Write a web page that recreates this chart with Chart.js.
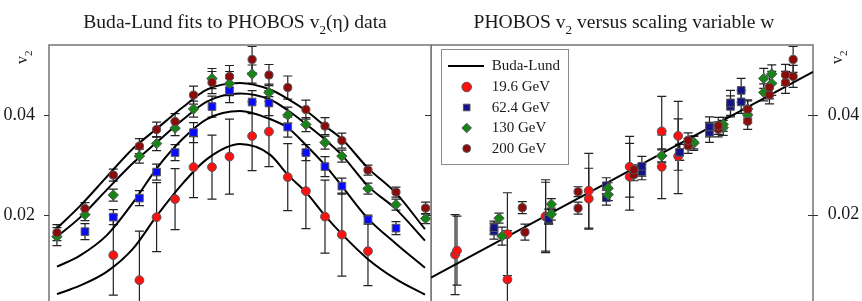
<!DOCTYPE html>
<html>
<head>
<meta charset="utf-8">
<script src="https://cdn.jsdelivr.net/npm/chart.js@4.4.1/dist/chart.umd.min.js"></script>
<style>
    html, body { margin: 0; padding: 0; background: #fff; overflow: hidden; }
    #wrap { position: relative; width: 862px; height: 301px; }
    canvas { position: absolute; top: 0; }
    #cL { left: 0; width: 432px; height: 340px; }
    #cR { left: 431px; width: 431px; height: 340px; }
</style>
</head>
<body>
<div id="wrap">
    <canvas id="cL" width="432" height="340"></canvas>
    <canvas id="cR" width="431" height="340"></canvas>
</div>
<script>
// --- PHOBOS v2(eta) points ---
const etaRed = [-3.98, -3.16, -2.62, -2.04, -1.46, -0.88, -0.33, 0.38, 0.91, 1.50, 2.07, 2.67, 3.20, 4.02];
const v2Red = [0.0120, 0.0070, 0.0196, 0.0232, 0.0296, 0.0296, 0.0317, 0.0358, 0.0367, 0.0276, 0.0248, 0.0197, 0.0161, 0.0128];
const errRed = [0.0080, 0.0098, 0.0069, 0.0061, 0.0061, 0.0064, 0.0075, 0.0069, 0.0070, 0.0067, 0.0075, 0.0073, 0.0083, 0.0069];
const wRed = [0.63, 2.00, 3.00, 4.13, 5.20, 6.04, 6.47, 6.47, 6.04, 5.20, 4.13, 3.00, 2.00, 0.68];

const etaBlue = [-4.87, -3.98, -3.16, -2.62, -2.04, -1.46, -0.88, -0.33, 0.38, 0.91, 1.50, 2.07, 2.67, 3.20, 4.02, 4.90];
const v2Blue = [0.0167, 0.0196, 0.0234, 0.0286, 0.0325, 0.0365, 0.0417, 0.0449, 0.0426, 0.0424, 0.0376, 0.0325, 0.0297, 0.0258, 0.0191, 0.0174];
const errBlue = [0.0016, 0.0015, 0.0015, 0.0016, 0.0016, 0.0020, 0.0021, 0.0024, 0.0023, 0.0025, 0.0020, 0.0016, 0.0020, 0.0016, 0.0009, 0.0013];
const wBlue = [1.65, 3.08, 4.59, 5.52, 6.51, 7.29, 7.84, 8.12, 8.12, 7.84, 7.29, 6.51, 5.52, 4.59, 3.08, 1.65];

const etaAll = [-5.75, -4.87, -3.98, -3.16, -2.62, -2.04, -1.46, -0.88, -0.33, 0.38, 0.91, 1.50, 2.07, 2.67, 3.20, 4.02, 4.90, 5.83];
const v2Green = [0.0157, 0.0201, 0.0240, 0.0318, 0.0343, 0.0374, 0.0412, 0.0473, 0.0463, 0.0482, 0.0445, 0.0400, 0.0381, 0.0345, 0.0318, 0.0253, 0.0221, 0.0193];
const errGreen = [0.0018, 0.0012, 0.0012, 0.0014, 0.0014, 0.0015, 0.0016, 0.0020, 0.0024, 0.0018, 0.0017, 0.0016, 0.0014, 0.0013, 0.0012, 0.0011, 0.0011, 0.0010];
const wGreen = [1.86, 3.15, 4.64, 6.04, 6.88, 7.65, 8.29, 8.71, 8.92, 8.92, 8.71, 8.29, 7.65, 6.88, 6.04, 4.64, 3.15, 1.78];

const v2Dark = [0.0165, 0.0213, 0.0280, 0.0338, 0.0371, 0.0387, 0.0440, 0.0465, 0.0477, 0.0511, 0.0480, 0.0455, 0.0411, 0.0378, 0.0349, 0.0290, 0.0246, 0.0214];
const errDark = [0.0016, 0.0012, 0.0012, 0.0015, 0.0015, 0.0016, 0.0018, 0.0022, 0.0022, 0.0026, 0.0021, 0.0023, 0.0019, 0.0017, 0.0015, 0.0010, 0.0010, 0.0012];
const wDark = [2.46, 3.85, 5.31, 6.73, 7.52, 8.29, 8.86, 9.28, 9.48, 9.48, 9.28, 8.86, 8.29, 7.52, 6.73, 5.31, 3.85, 2.39];

// --- Buda-Lund fit curves (left) and the straight fit (right) ---
const etaFit = [-5.75, -5.03, -4.18, -3.36, -2.61, -1.79, -1.04, 0, 0.94, 1.51, 2.07, 2.67, 3.20, 4.02, 4.90, 5.81];
const fit200 = [0.0174, 0.0218, 0.0277, 0.0333, 0.0373, 0.0416, 0.0451, 0.0464, 0.0451, 0.0432, 0.0409, 0.0378, 0.0352, 0.0294, 0.0244, 0.0172];
const fit130 = [0.0157, 0.0195, 0.0251, 0.0304, 0.0346, 0.0391, 0.0427, 0.0443, 0.0431, 0.0409, 0.0382, 0.0351, 0.0320, 0.0258, 0.0212, 0.0149];
const fit62 = [0.0097, 0.0119, 0.0160, 0.0225, 0.0294, 0.0353, 0.0392, 0.0408, 0.0392, 0.0374, 0.0340, 0.0300, 0.0258, 0.0193, 0.0143, 0.0095];
const fit19 = [0.0042, 0.0059, 0.0087, 0.0133, 0.0199, 0.0264, 0.0312, 0.0342, 0.0321, 0.0280, 0.0246, 0.0199, 0.0162, 0.0112, 0.0072, 0.0041];
const wFit = [0, 10];
const v2Fit = [0.0074, 0.0486];

const yTicks = [0.02, 0.04];
const legendLabels = ['Buda-Lund', '19.6 GeV', '62.4 GeV', '130 GeV', '200 GeV'];

const SERIF = '"Liberation Serif", "Times New Roman", serif';
const pts = (xs, ys) => xs.map((x, i) => ({ x, y: ys[i] }));

// error bars go under the markers
const errorBars = {
    id: 'errorBars',
    beforeDatasetsDraw(chart) {
        const ctx = chart.ctx, y = chart.scales.y;
        chart.data.datasets.forEach((ds, i) => {
            if (!ds.err) return;
            const meta = chart.getDatasetMeta(i);
            ctx.save();
            ctx.strokeStyle = ds.errColor || '#222';
            ctx.lineWidth = 1.2;
            meta.data.forEach((p, j) => {
                const v = ds.data[j].y, e = ds.err[j];
                const y1 = y.getPixelForValue(v + e), y2 = y.getPixelForValue(v - e);
                ctx.beginPath();
                ctx.moveTo(p.x, y1); ctx.lineTo(p.x, y2);
                ctx.moveTo(p.x - 4.5, y1); ctx.lineTo(p.x + 4.5, y1);
                ctx.moveTo(p.x - 4.5, y2); ctx.lineTo(p.x + 4.5, y2);
                ctx.stroke();
            });
            ctx.restore();
        });
    }
};

// frame + little tick marks
function frame(marks) {
    return {
        id: 'frame',
        beforeDatasetsDraw(chart) {
            const { ctx, chartArea: a, scales: { y } } = chart;
            ctx.save();
            ctx.strokeStyle = '#747474';
            ctx.lineWidth = 1.5;
            ctx.strokeRect(a.left, a.top, a.right - a.left, a.bottom - a.top);
            ctx.strokeStyle = '#333';
            ctx.lineWidth = 1;
            yTicks.forEach(v => {
                const py = Math.round(y.getPixelForValue(v)) + 0.5;
                marks(a).forEach(([x0, x1]) => {
                    ctx.beginPath(); ctx.moveTo(x0, py); ctx.lineTo(x1, py); ctx.stroke();
                });
            });
            ctx.restore();
        }
    };
}

// text with a subscript piece: parts = [[text, isSub], ...]
function subText(ctx, parts, x, base, size, align) {
    const sub = Math.round(size * 0.68);
    const w = parts.reduce((s, [t, s2]) => {
        ctx.font = (s2 ? sub : size) + 'px ' + SERIF;
        return s + ctx.measureText(t).width;
    }, 0);
    let cx = align === 'center' ? x - w / 2 : x;
    parts.forEach(([t, s2]) => {
        ctx.font = (s2 ? sub : size) + 'px ' + SERIF;
        ctx.fillText(t, cx, s2 ? base + size * 0.3 : base);
        cx += ctx.measureText(t).width;
    });
}

function labels(title, cx, vx) {
    return {
        id: 'labels',
        afterDraw(chart) {
            const ctx = chart.ctx;
            ctx.save();
            ctx.fillStyle = '#1a1a1a';
            ctx.textAlign = 'left';
            ctx.textBaseline = 'alphabetic';
            subText(ctx, title, cx, 28, 19.6, 'center');
            // rotated v2 axis label
            ctx.translate(vx, 64);
            ctx.rotate(-Math.PI / 2);
            subText(ctx, [['v', false], ['2', true]], 0, 0, 16, 'left');
            ctx.restore();
        }
    };
}

function marker(ctx, style, x, y, r, fill, stroke) {
    ctx.beginPath();
    if (style === 'circle') ctx.arc(x, y, r, 0, Math.PI * 2);
    else if (style === 'rect') ctx.rect(x - r, y - r, 2 * r, 2 * r);
    else { ctx.moveTo(x - r, y); ctx.lineTo(x, y - r); ctx.lineTo(x + r, y); ctx.lineTo(x, y + r); ctx.closePath(); }
    ctx.fillStyle = fill; ctx.fill();
    ctx.strokeStyle = stroke; ctx.lineWidth = 1; ctx.stroke();
}

const legendBox = {
    id: 'legendBox',
    afterDraw(chart) {
        const ctx = chart.ctx;
        ctx.save();
        ctx.fillStyle = '#fff';
        ctx.fillRect(10.5, 49.5, 127, 115);
        ctx.strokeStyle = '#8a8a8a';
        ctx.lineWidth = 1;
        ctx.strokeRect(10.5, 49.5, 127, 115);
        const rows = [66, 87, 107.5, 128, 148.5];
        ctx.strokeStyle = '#000'; ctx.lineWidth = 2;
        ctx.beginPath(); ctx.moveTo(17, rows[0]); ctx.lineTo(53, rows[0]); ctx.stroke();
        marker(ctx, 'circle', 35.7, rows[1], 4.8, '#ff1010', '#555');
        marker(ctx, 'rect', 35.7, rows[2], 3.3, '#141488', '#555');
        marker(ctx, 'diamond', 35.7, rows[3], 4.8, '#168516', '#555');
        marker(ctx, 'circle', 35.7, rows[4], 3.9, '#8b0a0a', '#555');
        ctx.fillStyle = '#1a1a1a';
        ctx.font = '15px ' + SERIF;
        ctx.textBaseline = 'middle';
        legendLabels.forEach((t, i) => ctx.fillText(t, 60.7, rows[i] + 0.5));
        ctx.restore();
    }
};

function yScale(pos, pad) {
    return {
        min: 0, max: 0.054, position: pos,
        afterFit: s => { s.width = 49; },
        grid: { display: false, drawTicks: false },
        border: { display: false },
        ticks: {
            stepSize: 0.02, includeBounds: false, padding: pad, color: '#1a1a1a',
            font: { family: SERIF, size: 18 },
            callback: v => (yTicks.some(t => Math.abs(t - v) < 1e-9) ? v.toFixed(2) : '')
        }
    };
}

function fitSet(xs, ys) {
    return {
        data: pts(xs, ys), showLine: true, borderColor: '#000', borderWidth: 2,
        pointRadius: 0, cubicInterpolationMode: 'monotone', order: 5
    };
}

function ptSet(xs, ys, err, style, r, color, order) {
    return {
        data: pts(xs, ys), err, pointStyle: style, pointRadius: r, pointHoverRadius: r,
        backgroundColor: color, borderColor: '#555', borderWidth: 1, order, clip: false
    };
}

const common = {
    responsive: false, animation: false, devicePixelRatio: 1,
    plugins: { legend: { display: false }, tooltip: { enabled: false } },
    events: []
};

// left: v2 vs eta
new Chart(document.getElementById('cL'), {
    type: 'scatter',
    data: {
        datasets: [
            fitSet(etaFit, fit200), fitSet(etaFit, fit130), fitSet(etaFit, fit62), fitSet(etaFit, fit19),
            ptSet(etaRed, v2Red, errRed, 'circle', 4.4, '#ff1010', 4),
            ptSet(etaBlue, v2Blue, errBlue, 'rect', 5.4, '#0a0aff', 3),
            ptSet(etaAll, v2Green, errGreen, 'rectRot', 5.2, '#168516', 2),
            ptSet(etaAll, v2Dark, errDark, 'circle', 4.1, '#8b0a0a', 1)
        ]
    },
    options: {
        ...common,
        layout: { autoPadding: false, padding: { left: 0, right: 1, top: 45, bottom: 21 } },
        scales: {
            x: { type: 'linear', display: false, min: -6, max: 6 },
            y: yScale('left', 14)
        }
    },
    plugins: [frame(a => [[a.left - 5, a.left], [a.right - 6, a.right]]), errorBars,
              labels([['Buda-Lund fits to PHOBOS v', false], ['2', true], ['(\u03b7) data', false]], 235, 27)]
});

// right: v2 vs w
new Chart(document.getElementById('cR'), {
    type: 'scatter',
    data: {
        datasets: [
            { data: pts(wFit, v2Fit), showLine: true, borderColor: '#000', borderWidth: 2, pointRadius: 0, order: 5 },
            ptSet(wRed, v2Red, errRed, 'circle', 4.4, '#ff1010', 4),
            ptSet(wBlue, v2Blue, errBlue, 'rect', 5.4, '#141488', 3),
            ptSet(wGreen, v2Green, errGreen, 'rectRot', 5.2, '#168516', 2),
            ptSet(wDark, v2Dark, errDark, 'circle', 4.1, '#8b0a0a', 1)
        ]
    },
    options: {
        ...common,
        layout: { autoPadding: false, padding: { left: 0, right: 0, top: 45, bottom: 21 } },
        scales: {
            x: { type: 'linear', display: false, min: 0, max: 10 },
            y: yScale('right', 14.7)
        }
    },
    plugins: [frame(a => [[a.right - 5, a.right + 5]]), errorBars,
              labels([['PHOBOS v', false], ['2', true], [' versus scaling variable w', false]], 193, 411), legendBox]
});
</script>
</body>
</html>
